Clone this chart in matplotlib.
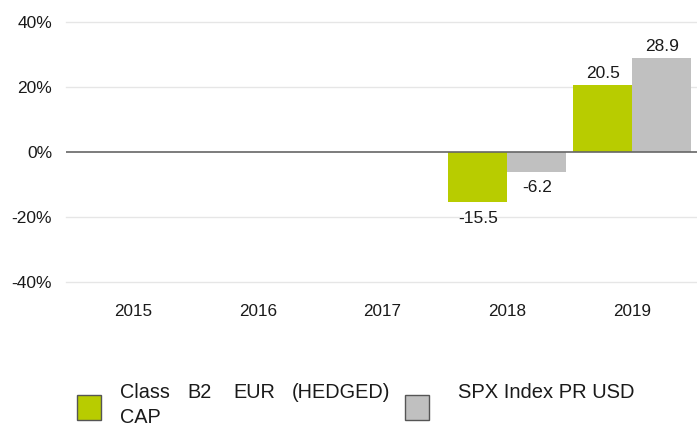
import numpy as np
import matplotlib
matplotlib.use("Agg")
import matplotlib.pyplot as plt
import matplotlib.patches as mpatches

# data
YEARS = ["2015", "2016", "2017", "2018", "2019"]
FUND = [np.nan, np.nan, np.nan, -15.5, 20.5]
INDEX = [np.nan, np.nan, np.nan, -6.2, 28.9]
FUND_WORDS = ["Class", "B2", "EUR", "(HEDGED)"]
FUND_LINE2 = "CAP"
INDEX_LABEL = "SPX Index PR USD"
YTICKS = [-40, -20, 0, 20, 40]

GREEN = "#b8cc00"
GREY = "#c0c0c0"
TXT = "#1a1a1a"

plt.rcParams["font.family"] = ["Liberation Sans", "DejaVu Sans"]

W, H = 697, 426
fig = plt.figure(figsize=(W / 100, H / 100), dpi=100)
ax = fig.add_axes([66 / W, (H - 282) / H, 1 - 66 / W, 260 / H])

x = np.arange(len(YEARS))
bw = 0.473
b1 = ax.bar(x - bw / 2, FUND, bw, color=GREEN, zorder=3)
b2 = ax.bar(x + bw / 2, INDEX, bw, color=GREY, zorder=3)

for bars, vals in ((b1, FUND), (b2, INDEX)):
    for rect, v in zip(bars, vals):
        if np.isnan(v):
            continue
        cx = rect.get_x() + rect.get_width() / 2
        ax.annotate("{:.1f}".format(v), (cx, v),
                    xytext=(0, 3 if v > 0 else -6), textcoords="offset points",
                    ha="center", va="bottom" if v > 0 else "top",
                    fontsize=12.5, color=TXT)

for t in YTICKS:
    if t == 0:
        ax.axhline(0, color="#666666", lw=1.2, zorder=4)
    else:
        ax.axhline(t, color="#e6e6e6", lw=1.0, zorder=1, clip_on=False)

ax.set_xlim(-0.537, 4.52)
ax.set_ylim(-40, 40)
ax.set_yticks(YTICKS)
ax.set_yticklabels(["{}%".format(t) for t in YTICKS])
ax.set_xticks(x)
ax.set_xticklabels(YEARS)
ax.tick_params(axis="y", length=0, pad=10, labelsize=12.5, labelcolor=TXT)
ax.tick_params(axis="x", length=0, pad=16, labelsize=12.3, labelcolor=TXT)
for s in ax.spines.values():
    s.set_visible(False)

# legend, drawn by hand in pixel units
def px(xp, yp):
    return xp / W, (H - yp) / H

for x0, col in ((77, GREEN), (405, GREY)):
    fx, fy = px(x0, 420)
    fig.patches.append(mpatches.Rectangle((fx, fy), 24 / W, 25 / H,
                                          transform=fig.transFigure,
                                          facecolor=col, edgecolor="#555555",
                                          lw=1.0))
# justified first line of the fund label
for word, xw in zip(FUND_WORDS, [120, 187, 233, 292]):
    fig.text(*px(xw, 398), word, ha="left", va="baseline", fontsize=14.3,
             color=TXT)
fig.text(*px(120, 423), FUND_LINE2, ha="left", va="baseline", fontsize=14.3,
         color=TXT)
fig.text(*px(458, 398), INDEX_LABEL, ha="left", va="baseline", fontsize=14.5,
         color=TXT)

fig.savefig("out.png", dpi=100)
